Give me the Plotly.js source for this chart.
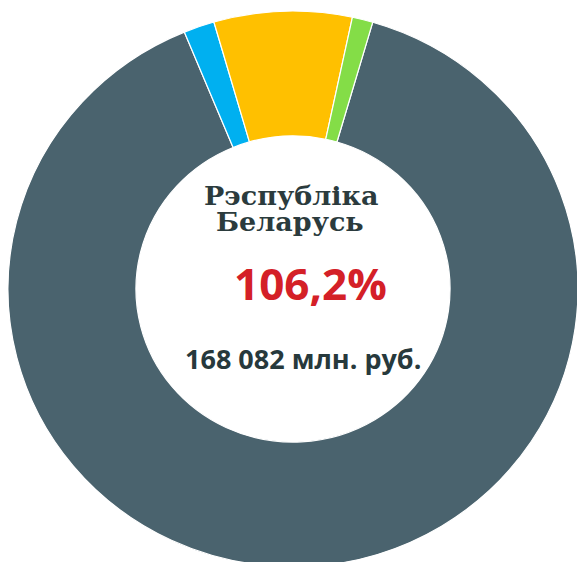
<!DOCTYPE html>
<html>
<head>
<meta charset="utf-8">
<script src="https://cdn.plot.ly/plotly-3.0.1.min.js"></script>
<style>
html, body { margin: 0; padding: 0; overflow: hidden; background: #fff; }
#chart { width: 586px; height: 586px; transform-origin: 0 0; transform: translateY(3.3px) scaleY(0.975); }
</style>
</head>
<body>
<div id="chart"></div>
<script>
// Data (shares of total, %)
const categories = ["Прочие регионы", "Сегмент 2", "Сегмент 3", "Сегмент 4"];
const shares = [89.26, 1.75, 7.82, 1.17];
const colors = ["#4a636e", "#00b0f0", "#ffc000", "#84dd47"];
const titleLines = ["Рэспубліка", "Беларусь"];
const growthLabel = "106,2%";
const totalLabel = "168 082 млн. руб.";

const W = 586, H = 586, M = 8;
const SY = 0.975, TY = 3.3;
const px = x => (x - M) / (W - 2 * M);
const py = ys => { const y = (ys - TY) / SY; return 1 - (y - M) / (H - 2 * M); };

const trace = {
  type: "pie",
  labels: categories,
  values: shares,
  sort: false,
  direction: "clockwise",
  rotation: 16.25,
  hole: 0.551,
  marker: { colors: colors, line: { color: "#ffffff", width: 1.2 } },
  textinfo: "none",
  hoverinfo: "label+percent",
  showlegend: false
};

const serif = "DejaVu Serif";
const layout = {
  width: W, height: H,
  margin: { l: M, r: M, t: M, b: M },
  paper_bgcolor: "#ffffff",
  showlegend: false,
  annotations: [
    { text: "<b>" + titleLines[0] + "</b>", x: px(291), y: py(196), xref: "paper", yref: "paper",
      showarrow: false, xanchor: "center", yanchor: "middle",
      font: { family: serif, size: 27, color: "#2b3b3d" } },
    { text: "<b>" + titleLines[1] + "</b>", x: px(290), y: py(222), xref: "paper", yref: "paper",
      showarrow: false, xanchor: "center", yanchor: "middle",
      font: { family: serif, size: 27, color: "#2b3b3d" } },
    { text: "<b>" + growthLabel + "</b>", x: px(310), y: py(283), xref: "paper", yref: "paper",
      showarrow: false, xanchor: "center", yanchor: "middle",
      font: { family: "Open Sans", size: 44, color: "#d42027" } },
    { text: "<b>" + totalLabel + "</b>", x: px(303), y: py(359), xref: "paper", yref: "paper",
      showarrow: false, xanchor: "center", yanchor: "middle",
      font: { family: "Open Sans", size: 27, color: "#27393c" } }
  ]
};

Plotly.newPlot("chart", [trace], layout, { displayModeBar: false, staticPlot: true });
</script>
</body>
</html>
